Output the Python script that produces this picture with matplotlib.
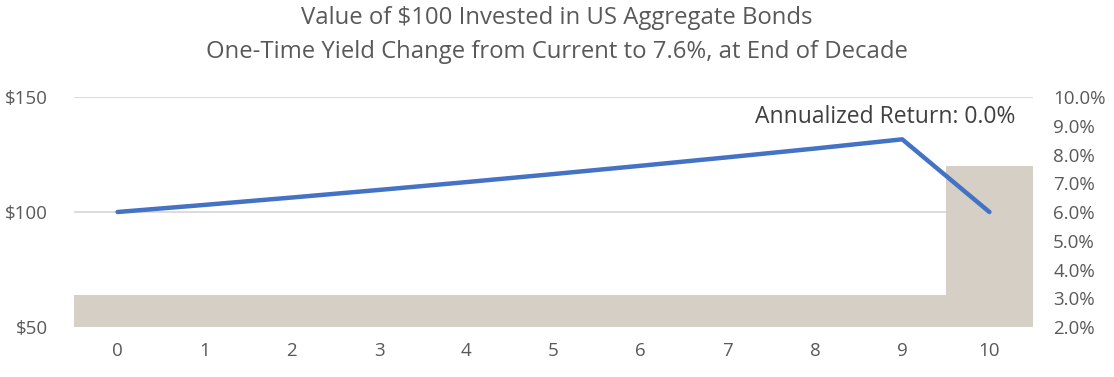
import numpy as np
import matplotlib.pyplot as plt
from matplotlib.transforms import blended_transform_factory

plt.rcParams['font.family'] = ['Open Sans', 'DejaVu Sans']

years = list(range(11))
yields = [3.1, 3.1, 3.1, 3.1, 3.1, 3.1, 3.1, 3.1, 3.1, 3.1, 7.6]
values = [100.0, 103.1, 106.3, 109.6, 113.0, 116.5, 120.1, 123.8, 127.6, 131.6, 100.0]
dollar_ticks = [50, 100, 150]
pct_ticks = [2, 3, 4, 5, 6, 7, 8, 9, 10]
title = 'Value of $100 Invested in US Aggregate Bonds\nOne-Time Yield Change from Current to 7.6%, at End of Decade'
note = 'Annualized Return: 0.0%'

txt = '#595959'
fig = plt.figure(figsize=(11.14, 3.77), dpi=100)
ax = fig.add_axes([0.0664, 0.1326, 0.8609, 0.6101])
ax2 = ax.twinx()

# bars (yield) on the right axis, drawn behind
ax.bar(years, yields, width=1.0, color='#D6CFC5', zorder=2)
ax.set_ylim(2, 10)
ax.set_yticks(pct_ticks)
ax.set_yticklabels([f'{p:.1f}%' for p in pct_ticks])
ax.yaxis.tick_right()
ax.set_xlim(-0.5, 10.5)
ax.set_xticks(years)

# gridlines in dollar units, behind the bars
tr = blended_transform_factory(ax.transAxes, ax2.transData)
for d in dollar_ticks:
    ax.plot([0, 1], [d, d], transform=tr, color='#D9D9D9', lw=1.3, zorder=1)

# line (value) on the left axis
ax2.plot(years, values, color='#4472C4', lw=3.2, solid_capstyle='round', zorder=3)
ax2.set_ylim(50, 150)
ax2.set_yticks(dollar_ticks)
ax2.set_yticklabels([f'${d}' for d in dollar_ticks])
ax2.yaxis.tick_left()

for a in (ax, ax2):
    for s in a.spines.values():
        s.set_visible(False)
ax.tick_params(axis='y', length=0, pad=14.5, labelsize=13.5, colors=txt, labelright=True, labelleft=False)
ax.tick_params(axis='x', length=0, pad=11, labelsize=13.5, colors=txt)
ax2.tick_params(axis='y', length=0, pad=19, labelsize=13.5, colors=txt, labelleft=True, labelright=False)

ax2.text(8.8, 136, note, ha='center', va='bottom', fontsize=16.5, color='#404040')

fig.text(0.5, 0.985, title, ha='center', va='top', fontsize=17.2, color=txt, linespacing=1.55)

fig.savefig('out.png', dpi=100)
